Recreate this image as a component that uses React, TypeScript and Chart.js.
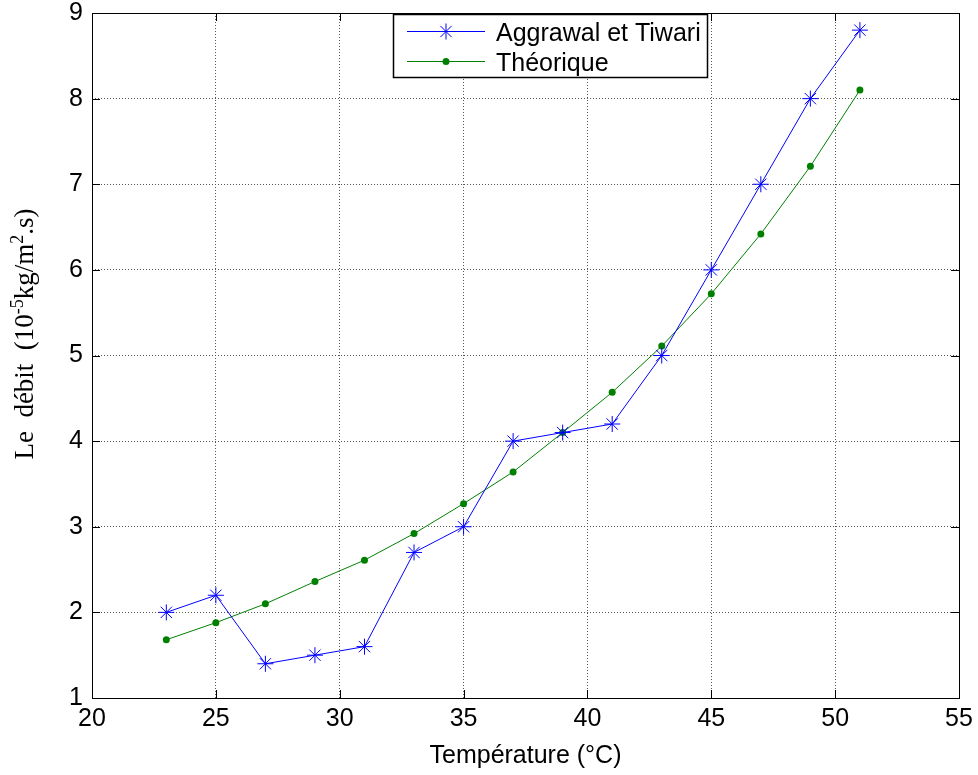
import { useEffect, useRef } from "react";
import { Chart, registerables } from "chart.js";

Chart.register(...registerables);

// Flow rate vs. temperature
const temperatures = [23, 25, 27, 29, 31, 33, 35, 37, 39, 41, 43, 45, 47, 49, 51];
const aggrawalTiwari = [2.0, 2.2, 1.4, 1.5, 1.6, 2.7, 3.0, 4.0, 4.1, 4.2, 5.0, 6.0, 7.0, 8.0, 8.8];
const theorique = [1.68, 1.88, 2.1, 2.36, 2.61, 2.92, 3.27, 3.64, 4.1, 4.57, 5.11, 5.72, 6.42, 7.21, 8.1];

const xTickValues = [20, 25, 30, 35, 40, 45, 50, 55];
const yTickValues = [1, 2, 3, 4, 5, 6, 7, 8, 9];

const seriesLabels = ["Aggrawal et Tiwari", "Théorique"];
const xTitle = "Température (°C)";
// y title pieces: [text, superscript?]
const yTitleParts: [string, boolean][] = [
  ["Le  débit  (10", false],
  ["-5", true],
  ["kg/m", false],
  ["2", true],
  [".s)", false],
];

const BLUE = "#0000ff";
const GREEN = "#008000";
const SANS = "'Liberation Sans', Arial, sans-serif";
const SERIF = "'Liberation Serif', 'Times New Roman', serif";

function drawStar(ctx: CanvasRenderingContext2D, x: number, y: number, r: number) {
  ctx.beginPath();
  ctx.moveTo(x, y - r);
  ctx.lineTo(x, y + r);
  ctx.moveTo(x - r, y);
  ctx.lineTo(x + r, y);
  const d = r * Math.SQRT1_2;
  ctx.moveTo(x - d, y - d);
  ctx.lineTo(x + d, y + d);
  ctx.moveTo(x - d, y + d);
  ctx.lineTo(x + d, y - d);
  ctx.stroke();
}

const decorations = {
  id: "decorations",
  afterDraw(chart: any) {
    const { ctx, chartArea: a, scales } = chart;
    const xs = scales.x;
    const ys = scales.y;
    ctx.save();

    // axes box
    ctx.strokeStyle = "#000";
    ctx.lineWidth = 1;
    ctx.strokeRect(Math.round(a.left) + 0.5, Math.round(a.top) + 0.5, Math.round(a.right - a.left), Math.round(a.bottom - a.top));

    // inward tick marks on all four sides
    const tl = 8;
    ctx.beginPath();
    for (const v of xTickValues) {
      const px = Math.round(xs.getPixelForValue(v)) + 0.5;
      ctx.moveTo(px, a.bottom);
      ctx.lineTo(px, a.bottom - tl);
      ctx.moveTo(px, a.top);
      ctx.lineTo(px, a.top + tl);
    }
    for (const v of yTickValues) {
      const py = Math.round(ys.getPixelForValue(v)) + 0.5;
      ctx.moveTo(a.left, py);
      ctx.lineTo(a.left + tl, py);
      ctx.moveTo(a.right, py);
      ctx.lineTo(a.right - tl, py);
    }
    ctx.stroke();

    // x title
    ctx.fillStyle = "#000";
    ctx.font = `25px ${SANS}`;
    ctx.textAlign = "center";
    ctx.textBaseline = "alphabetic";
    ctx.fillText(xTitle, (a.left + a.right) / 2, 763);

    // y title, rotated, with superscripts
    const mainFont = `27px ${SERIF}`;
    const supFont = `18px ${SERIF}`;
    let total = 0;
    for (const [t, sup] of yTitleParts) {
      ctx.font = sup ? supFont : mainFont;
      total += ctx.measureText(t).width;
    }
    ctx.translate(33, 334);
    ctx.rotate(-Math.PI / 2);
    ctx.textAlign = "left";
    let cx = -total / 2;
    for (const [t, sup] of yTitleParts) {
      ctx.font = sup ? supFont : mainFont;
      ctx.fillText(t, cx, sup ? -10 : 0);
      cx += ctx.measureText(t).width;
    }
    ctx.setTransform(1, 0, 0, 1, 0, 0);

    // legend
    const lx = 393.5, ly = 14.5, lw = 314, lh = 63;
    ctx.fillStyle = "#fff";
    ctx.fillRect(lx, ly, lw, lh);
    ctx.strokeStyle = "#000";
    ctx.lineWidth = 1.5;
    ctx.strokeRect(lx, ly, lw, lh);
    const rows = [
      { y: 31.5, color: BLUE, star: true },
      { y: 61.5, color: GREEN, star: false },
    ];
    rows.forEach((r, i) => {
      ctx.strokeStyle = r.color;
      ctx.lineWidth = 1;
      ctx.beginPath();
      ctx.moveTo(407, r.y);
      ctx.lineTo(485, r.y);
      ctx.stroke();
      if (r.star) {
        drawStar(ctx, 446, r.y, 8);
      } else {
        ctx.fillStyle = r.color;
        ctx.beginPath();
        ctx.arc(446, r.y, 3.5, 0, Math.PI * 2);
        ctx.fill();
      }
      ctx.fillStyle = "#000";
      ctx.font = `25px ${SANS}`;
      ctx.textAlign = "left";
      ctx.textBaseline = "alphabetic";
      ctx.fillText(seriesLabels[i], 496, r.y + 9);
    });

    ctx.restore();
  },
};

export default function App() {
  const ref = useRef<HTMLCanvasElement | null>(null);

  useEffect(() => {
    document.body.style.margin = "0";
    document.body.style.overflow = "hidden";
    const canvas = ref.current;
    if (!canvas) return;

    const gridOpts = { color: "#555", lineWidth: 1, drawTicks: false };
    const tickFont = { family: SANS, size: 25, lineHeight: 1 };

    const chart = new Chart(canvas, {
      type: "line",
      data: {
        datasets: [
          {
            label: seriesLabels[0],
            data: temperatures.map((t, i) => ({ x: t, y: aggrawalTiwari[i] })),
            borderColor: BLUE,
            backgroundColor: BLUE,
            borderWidth: 1,
            pointStyle: "star",
            pointRadius: 8,
            pointBorderWidth: 1,
            pointBorderColor: BLUE,
            tension: 0,
          },
          {
            label: seriesLabels[1],
            data: temperatures.map((t, i) => ({ x: t, y: theorique[i] })),
            borderColor: GREEN,
            backgroundColor: GREEN,
            borderWidth: 1,
            pointStyle: "circle",
            pointRadius: 3.5,
            pointBorderWidth: 0,
            pointBackgroundColor: GREEN,
            tension: 0,
          },
        ],
      },
      options: {
        responsive: false,
        animation: false,
        events: [],
        layout: { padding: { top: 13, right: 19, left: 0, bottom: 0 } },
        plugins: { legend: { display: false }, tooltip: { enabled: false } },
        scales: {
          x: {
            type: "linear",
            min: 20,
            max: 55,
            afterBuildTicks: (s: any) => {
              s.ticks = xTickValues.map((v) => ({ value: v }));
            },
            afterFit: (s: any) => {
              s.height = 77;
              s.paddingLeft = 0;
              s.paddingRight = 0;
              s.paddingTop = 0;
              s.paddingBottom = 0;
            },
            ticks: { color: "#000", font: tickFont, padding: 9, maxRotation: 0 },
            grid: gridOpts,
            border: { display: false, dash: [1, 2] },
          },
          y: {
            type: "linear",
            min: 1,
            max: 9,
            afterBuildTicks: (s: any) => {
              s.ticks = yTickValues.map((v) => ({ value: v }));
            },
            afterFit: (s: any) => {
              s.width = 92;
              s.paddingLeft = 0;
              s.paddingRight = 0;
              s.paddingTop = 0;
              s.paddingBottom = 0;
            },
            ticks: { color: "#000", font: tickFont, padding: 9 },
            grid: gridOpts,
            border: { display: false, dash: [1, 2] },
          },
        },
      },
      plugins: [decorations],
    });

    return () => chart.destroy();
  }, []);

  return (
    <div style={{ width: 978, height: 775, background: "#fff" }}>
      <canvas ref={ref} width={978} height={775} style={{ display: "block" }} />
    </div>
  );
}
